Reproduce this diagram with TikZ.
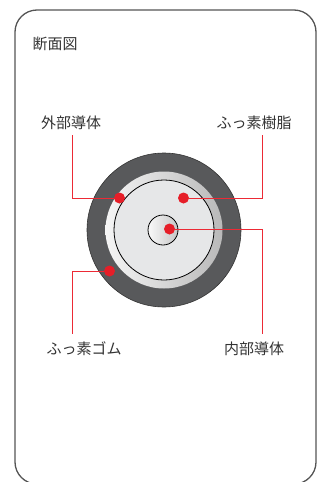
\documentclass[tikz,border=0pt]{standalone}
\usepackage{fontspec}
\newfontfamily\jp{Noto Sans CJK JP}
\definecolor{frame}{HTML}{555555}
\definecolor{txt}{HTML}{333333}
\definecolor{jacket}{HTML}{58595B}
\definecolor{fillin}{HTML}{E6E7E8}
\definecolor{leadred}{HTML}{EC2A35}
\definecolor{dotred}{HTML}{E61E28}
\begin{document}
\begin{tikzpicture}[x=1pt,y=-1pt,
  lbl/.style={font=\jp\fontsize{15}{15}\selectfont, text=txt, inner sep=0pt},
  dotmark/.style={circle, fill=dotred, inner sep=0pt, minimum size=11pt},
  lead/.style={draw=leadred, line width=1pt}]
\useasboundingbox (0,0) rectangle (332,482);
\draw[frame, line width=1.3pt, rounded corners=22pt] (15,10) rectangle (316,484);
% cross-section
\fill[jacket] (164,230) circle (77);
\draw[black!80, line width=0.6pt] (164,230) circle (77);
\shade[left color=gray!8, right color=gray!55] (164,230) circle (58.5);
\draw[black, line width=0.8pt, fill=fillin] (164,230) circle (50);
\shade[left color=gray!5, right color=gray!45] (163,230) circle (15);
\draw[black, line width=0.8pt] (163,230) circle (15);
% labels
\node[lbl] (title) at (55,44) {断面図};
\node[lbl] (l1) at (71,123) {外部導体};
\node[lbl] (l2) at (254,123) {ふっ素樹脂};
\node[lbl] (l3) at (84,349) {ふっ素ゴム};
\node[lbl] (l4) at (254,349) {内部導体};
% dots
\node[dotmark] (d1) at (119.5,198) {};
\node[dotmark] (d2) at (183.5,198) {};
\node[dotmark] (d3) at (169.5,229) {};
\node[dotmark] (d4) at (109.5,271) {};
% lead ends
\coordinate (e1) at (72,135);
\coordinate (e2) at (262,135);
\coordinate (e3) at (262,334);
\coordinate (e4) at (72,334);
\draw[lead] (d1) -| (e1);
\draw[lead] (d2) -| (e2);
\draw[lead] (d3) -| (e3);
\draw[lead] (d4) -| (e4);
\end{tikzpicture}
\end{document}
